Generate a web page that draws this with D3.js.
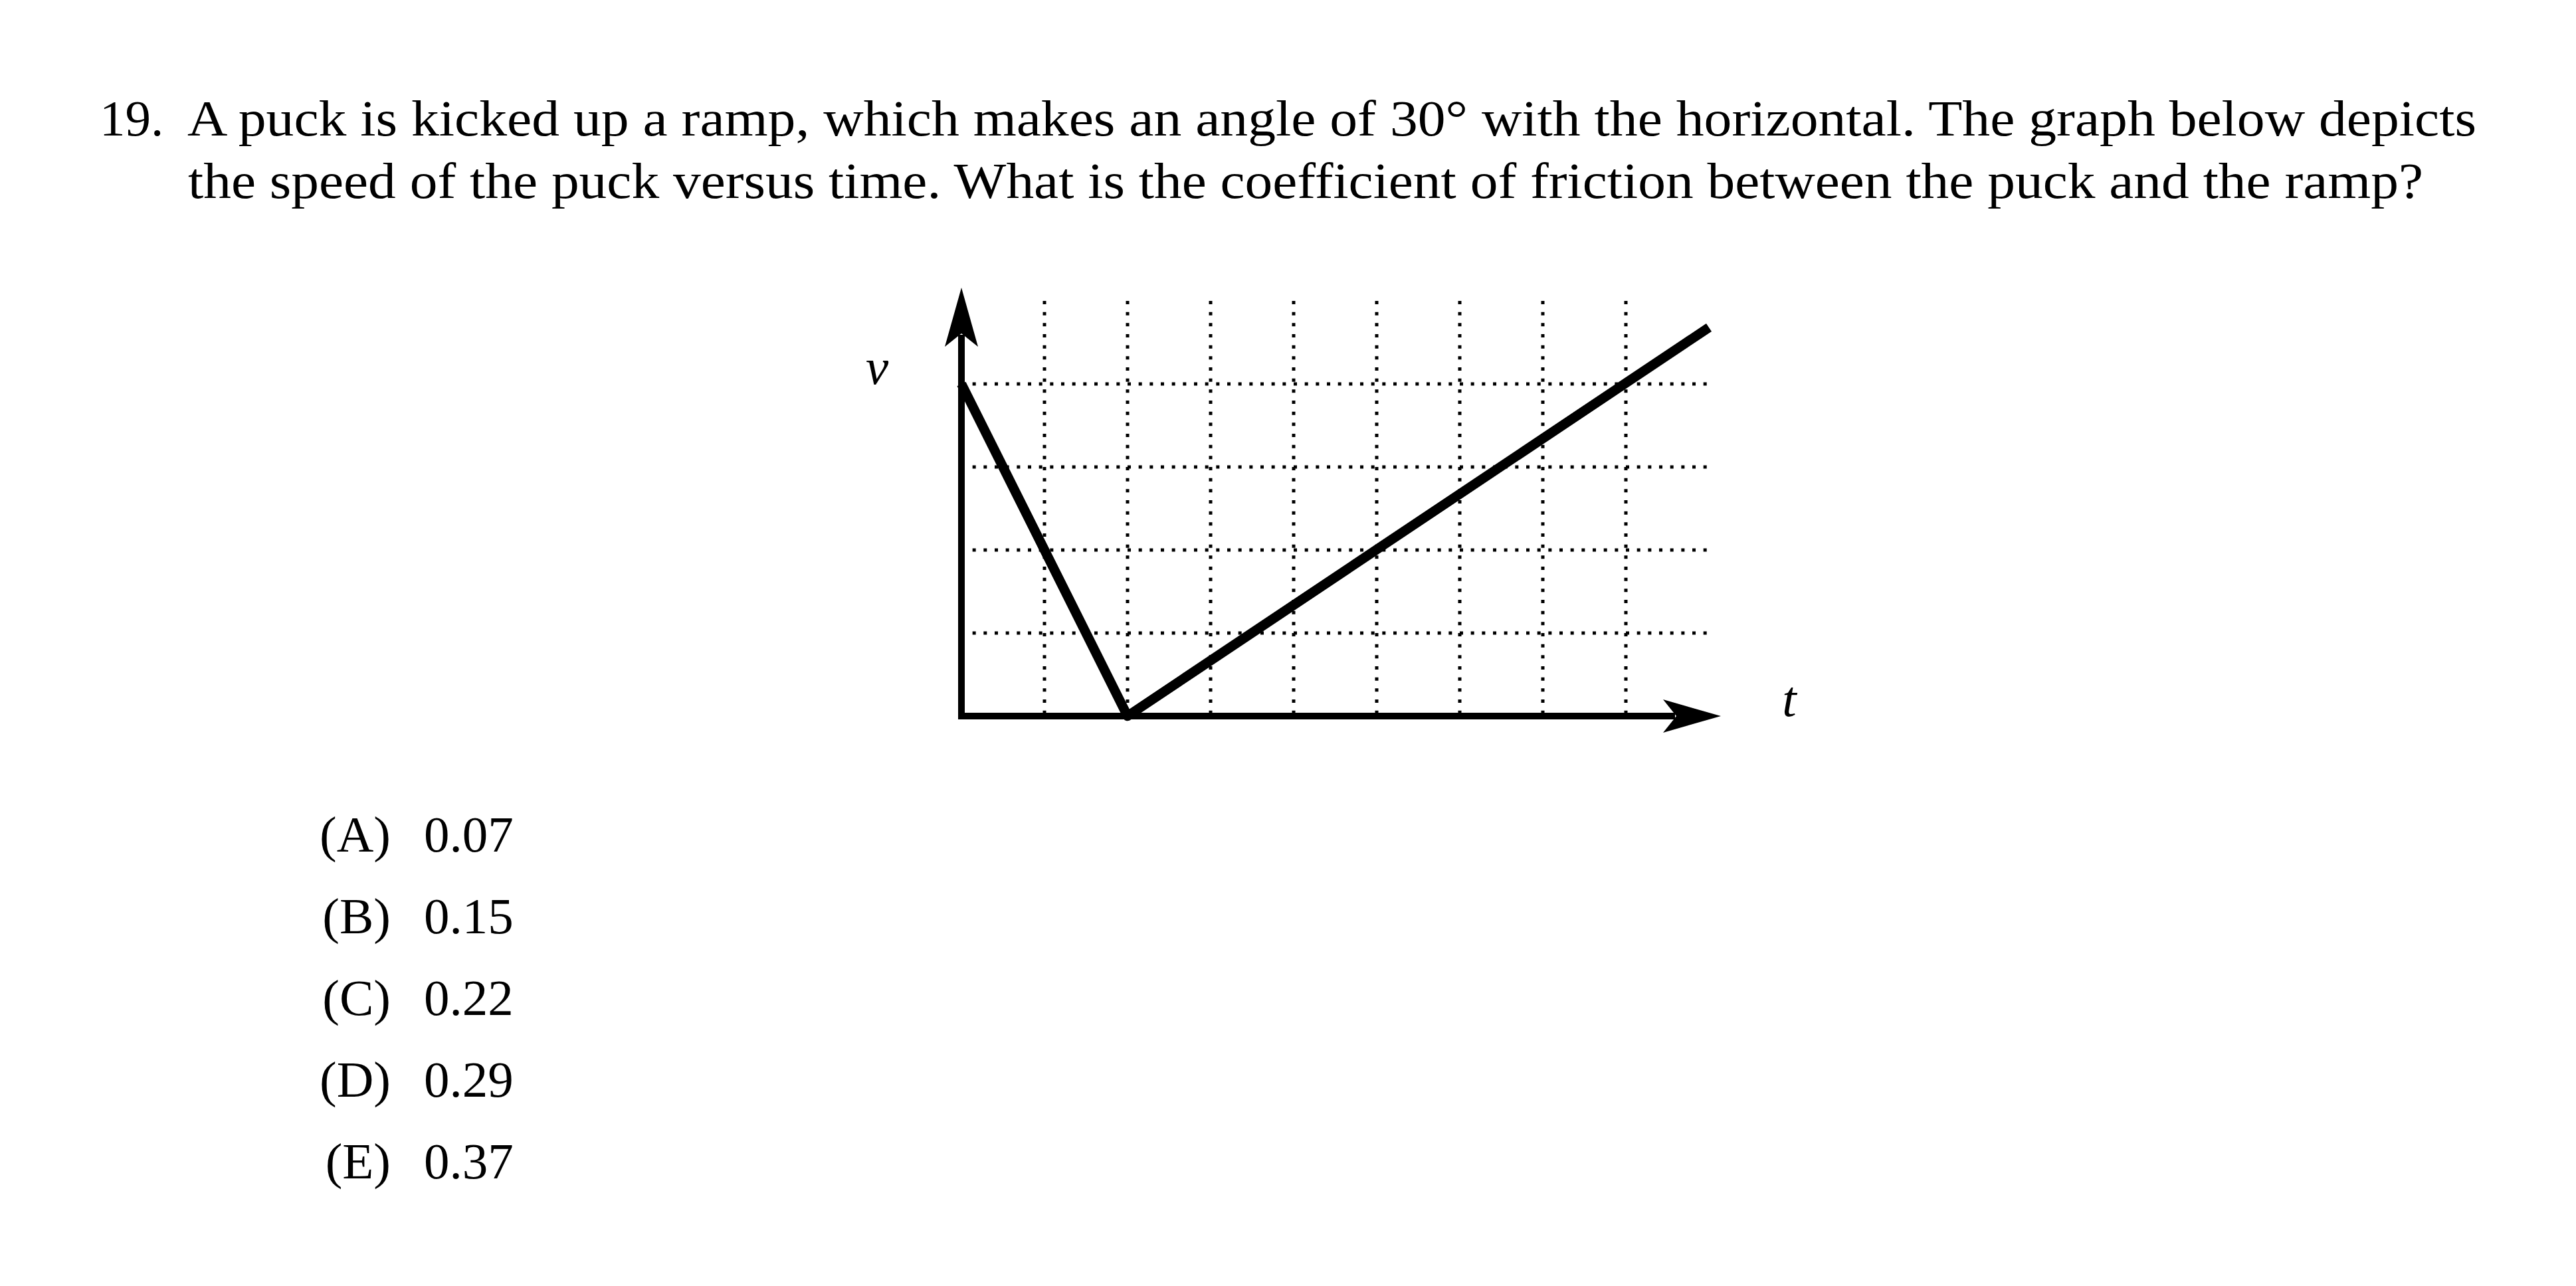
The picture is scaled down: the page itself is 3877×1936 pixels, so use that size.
<!DOCTYPE html>
<html>
<head>
<meta charset="utf-8">
<script src="https://cdn.jsdelivr.net/npm/d3@7"></script>
<style>
  html, body { margin: 0; padding: 0; background: #fff; }
  svg { display: block; }
  text { font-family: "Liberation Serif", "DejaVu Serif", serif; fill: #000; }
</style>
</head>
<body>
<script>
// ---- data ----
const questionNumber = "19.";
const questionLines = [
  "A puck is kicked up a ramp, which makes an angle of 30° with the horizontal. The graph below depicts",
  "the speed of the puck versus time. What is the coefficient of friction between the puck and the ramp?"
];
const choiceLabels = ["(A)", "(B)", "(C)", "(D)", "(E)"];
const choiceValues = ["0.07", "0.15", "0.22", "0.29", "0.37"];
const tValues = [0, 2, 9];
const vValues = [4, 0, 4.68];
const xGridTicks = [1, 2, 3, 4, 5, 6, 7, 8];
const yGridTicks = [1, 2, 3, 4];
const xAxisLabel = "t";
const yAxisLabel = "v";

// ---- layout ----
const W = 3877, H = 1936;
const svg = d3.select("body").append("svg").attr("width", W).attr("height", H);
svg.append("rect").attr("width", W).attr("height", H).attr("fill", "#fff");

const FS = 77;
// question text
svg.append("text").attr("x", 150).attr("y", 204).attr("font-size", FS).text(questionNumber);
const lineLayout = [{x: 282, y: 204, end: 3727}, {x: 283, y: 298, end: 3647}];
questionLines.forEach((s, i) => {
  const L = lineLayout[i];
  svg.append("text").attr("x", L.x).attr("y", L.y).attr("font-size", FS)
    .attr("textLength", L.end - L.x).attr("lengthAdjust", "spacingAndGlyphs")
    .text(s);
});

// answer choices
const choiceY = d3.scaleLinear().domain([0, 4]).range([1282, 1774]);
choiceLabels.forEach((lab, i) => {
  svg.append("text").attr("x", 588).attr("y", choiceY(i)).attr("font-size", FS)
    .attr("text-anchor", "end").text(lab);
  svg.append("text").attr("x", 638).attr("y", choiceY(i)).attr("font-size", FS)
    .text(choiceValues[i]);
});

// ---- chart ----
const x = d3.scaleLinear().domain([0, 9]).range([1447, 2572]);
const y = d3.scaleLinear().domain([0, 5]).range([1078, 453]);

const grid = svg.append("g").attr("stroke", "#000").attr("stroke-width", 5)
  .attr("stroke-dasharray", "5 11.667").attr("fill", "none");
xGridTicks.forEach(t => {
  grid.append("line").attr("x1", x(t)).attr("x2", x(t)).attr("y1", y(5)).attr("y2", y(0));
});
yGridTicks.forEach(v => {
  grid.append("line").attr("x1", x(0)).attr("x2", x(9)).attr("y1", y(v)).attr("y2", y(v));
});

// axes
const x0 = x(0), y0 = y(0);
const yTip = 433, yBack = 522, yNotch = 502;
const xTip = 2590, xBack = 2503, xNotch = 2523;
const hw = 25;
svg.append("path")
  .attr("d", `M${x0},${yNotch + 2} L${x0},${y0} L${xNotch - 2},${y0}`)
  .attr("fill", "none").attr("stroke", "#000").attr("stroke-width", 10)
  .attr("stroke-linejoin", "miter").attr("stroke-linecap", "butt");
svg.append("path")
  .attr("d", `M${x0},${yTip} L${x0 - hw},${yBack} L${x0},${yNotch} L${x0 + hw},${yBack} Z`)
  .attr("fill", "#000");
svg.append("path")
  .attr("d", `M${xTip},${y0} L${xBack},${y0 - hw} L${xNotch},${y0} L${xBack},${y0 + hw} Z`)
  .attr("fill", "#000");

// data line
const pts = tValues.map((t, i) => [t, vValues[i]]);
svg.append("path")
  .attr("d", d3.line().x(d => x(d[0])).y(d => y(d[1]))(pts))
  .attr("fill", "none").attr("stroke", "#000").attr("stroke-width", 14.5)
  .attr("stroke-linejoin", "round").attr("stroke-linecap", "butt");

// axis labels
svg.append("text").attr("x", 1320).attr("y", 578).attr("font-size", FS)
  .attr("font-style", "italic").attr("text-anchor", "middle").text(yAxisLabel);
svg.append("text").attr("x", 2693).attr("y", 1078).attr("font-size", FS)
  .attr("font-style", "italic").attr("text-anchor", "middle").text(xAxisLabel);
</script>
</body>
</html>
